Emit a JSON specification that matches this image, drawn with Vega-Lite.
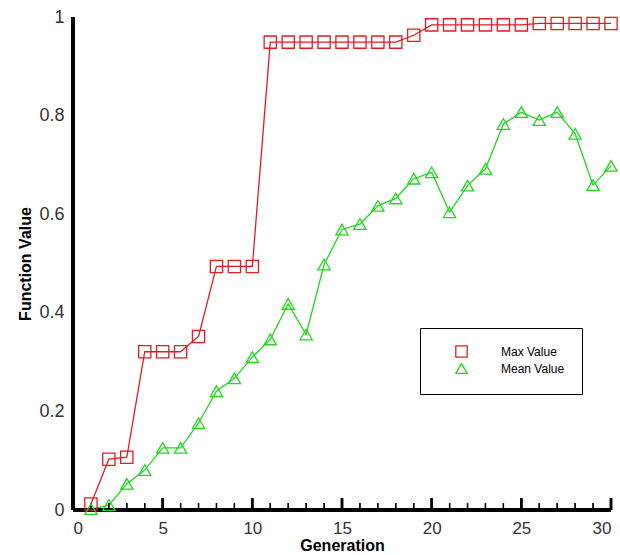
{
  "$schema": "https://vega.github.io/schema/vega-lite/v6.json",
  "autosize": "none",
  "width": 538,
  "height": 493,
  "padding": {"left": 73, "top": 17, "right": 9, "bottom": 45},
  "background": "white",
  "config": {
    "view": {"stroke": null},
    "font": "Liberation Sans",
    "axis": {"domain": false, "ticks": false, "grid": false}
  },
  "data": {"values": [
    {"gen": 1, "series": "Max Value", "value": 0.012},
    {"gen": 2, "series": "Max Value", "value": 0.103},
    {"gen": 3, "series": "Max Value", "value": 0.107},
    {"gen": 4, "series": "Max Value", "value": 0.321},
    {"gen": 5, "series": "Max Value", "value": 0.321},
    {"gen": 6, "series": "Max Value", "value": 0.321},
    {"gen": 7, "series": "Max Value", "value": 0.352},
    {"gen": 8, "series": "Max Value", "value": 0.494},
    {"gen": 9, "series": "Max Value", "value": 0.494},
    {"gen": 10, "series": "Max Value", "value": 0.494},
    {"gen": 11, "series": "Max Value", "value": 0.949},
    {"gen": 12, "series": "Max Value", "value": 0.949},
    {"gen": 13, "series": "Max Value", "value": 0.949},
    {"gen": 14, "series": "Max Value", "value": 0.949},
    {"gen": 15, "series": "Max Value", "value": 0.949},
    {"gen": 16, "series": "Max Value", "value": 0.949},
    {"gen": 17, "series": "Max Value", "value": 0.949},
    {"gen": 18, "series": "Max Value", "value": 0.949},
    {"gen": 19, "series": "Max Value", "value": 0.963},
    {"gen": 20, "series": "Max Value", "value": 0.984},
    {"gen": 21, "series": "Max Value", "value": 0.984},
    {"gen": 22, "series": "Max Value", "value": 0.984},
    {"gen": 23, "series": "Max Value", "value": 0.984},
    {"gen": 24, "series": "Max Value", "value": 0.984},
    {"gen": 25, "series": "Max Value", "value": 0.984},
    {"gen": 26, "series": "Max Value", "value": 0.987},
    {"gen": 27, "series": "Max Value", "value": 0.987},
    {"gen": 28, "series": "Max Value", "value": 0.987},
    {"gen": 29, "series": "Max Value", "value": 0.987},
    {"gen": 30, "series": "Max Value", "value": 0.987},
    {"gen": 1, "series": "Mean Value", "value": 0.002},
    {"gen": 2, "series": "Mean Value", "value": 0.01},
    {"gen": 3, "series": "Mean Value", "value": 0.053},
    {"gen": 4, "series": "Mean Value", "value": 0.081},
    {"gen": 5, "series": "Mean Value", "value": 0.126},
    {"gen": 6, "series": "Mean Value", "value": 0.126},
    {"gen": 7, "series": "Mean Value", "value": 0.176},
    {"gen": 8, "series": "Mean Value", "value": 0.241},
    {"gen": 9, "series": "Mean Value", "value": 0.267},
    {"gen": 10, "series": "Mean Value", "value": 0.31},
    {"gen": 11, "series": "Mean Value", "value": 0.346},
    {"gen": 12, "series": "Mean Value", "value": 0.418},
    {"gen": 13, "series": "Mean Value", "value": 0.356},
    {"gen": 14, "series": "Mean Value", "value": 0.498},
    {"gen": 15, "series": "Mean Value", "value": 0.569},
    {"gen": 16, "series": "Mean Value", "value": 0.58},
    {"gen": 17, "series": "Mean Value", "value": 0.617},
    {"gen": 18, "series": "Mean Value", "value": 0.632},
    {"gen": 19, "series": "Mean Value", "value": 0.672},
    {"gen": 20, "series": "Mean Value", "value": 0.685},
    {"gen": 21, "series": "Mean Value", "value": 0.604},
    {"gen": 22, "series": "Mean Value", "value": 0.658},
    {"gen": 23, "series": "Mean Value", "value": 0.692},
    {"gen": 24, "series": "Mean Value", "value": 0.783},
    {"gen": 25, "series": "Mean Value", "value": 0.807},
    {"gen": 26, "series": "Mean Value", "value": 0.791},
    {"gen": 27, "series": "Mean Value", "value": 0.807},
    {"gen": 28, "series": "Mean Value", "value": 0.763},
    {"gen": 29, "series": "Mean Value", "value": 0.659},
    {"gen": 30, "series": "Mean Value", "value": 0.698}
  ]},
  "layer": [
    {
      "mark": {"type": "line", "strokeWidth": 1.3},
      "encoding": {
        "x": {"field": "gen", "type": "quantitative", "scale": {"domain": [0, 30], "nice": false},
              "axis": {"values": [0,5,10,15,20,25,30],
                       "title": "Generation", "titleFontWeight": "bold", "titleFontSize": 16, "titlePadding": 1, "titleColor": "black",
                       "labelFontSize": 17, "labelColor": "#333", "labelPadding": 10}},
        "y": {"field": "value", "type": "quantitative", "scale": {"domain": [0, 1], "nice": false},
              "axis": {"values": [0,0.2,0.4,0.6,0.8,1], "format": "~g",
                       "title": "Function Value", "titleFontWeight": "bold", "titleFontSize": 16, "titlePadding": 5, "titleColor": "black",
                       "labelFontSize": 18, "labelColor": "#333", "labelPadding": 9}},
        "color": {"field": "series", "type": "nominal", "scale": {"domain": ["Max Value", "Mean Value"], "range": ["#e41c22", "#1ed81e"]},
                  "legend": {"title": null, "orient": "none", "legendX": 347, "legendY": 311, "direction": "vertical", "strokeColor": "black", "fillColor": "white", "padding": 17, "symbolOffset": 18, "labelOffset": 33, "labelFontSize": 12, "labelColor": "black", "rowPadding": 0, "symbolSize": 130, "symbolStrokeWidth": 1.3, "labelLimit": 200}},
        "detail": {"field": "series"}
      }
    },
    {
      "mark": {"type": "rule", "color": "black", "strokeWidth": 1.3},
      "encoding": {
        "x": {"field": "gen", "type": "quantitative"},
        "y": {"datum": 0},
        "y2": {"datum": 0.014}
      }
    },
    {
      "transform": [{"filter": "datum.gen % 5 === 0"}],
      "mark": {"type": "rule", "color": "black", "strokeWidth": 2.5},
      "encoding": {
        "x": {"field": "gen", "type": "quantitative"},
        "y": {"datum": 0},
        "y2": {"datum": 0.024}
      }
    },
    {
      "mark": {"type": "rule", "color": "black", "strokeWidth": 2.5},
      "encoding": {
        "x": {"datum": 0},
        "x2": {"datum": 30},
        "y": {"datum": 0}
      }
    },
    {
      "mark": {"type": "rule", "color": "black", "strokeWidth": 2.5},
      "encoding": {
        "x": {"datum": 0},
        "y": {"datum": 0},
        "y2": {"datum": 1}
      }
    },
    {
      "mark": {"type": "point", "filled": false, "strokeWidth": 1.3, "opacity": 1},
      "encoding": {
        "x": {"field": "gen", "type": "quantitative"},
        "y": {"field": "value", "type": "quantitative"},
        "color": {"field": "series", "type": "nominal"},
        "shape": {"field": "series", "type": "nominal", "scale": {"domain": ["Max Value", "Mean Value"], "range": ["square", "triangle-up"]}},
        "size": {"value": 150}
      }
    }
  ]
}
